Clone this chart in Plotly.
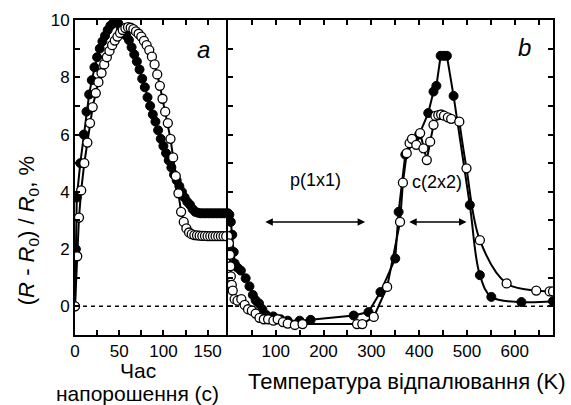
import plotly.graph_objects as go

# ---------------- data ----------------
# panel a: deposition time (s)
t_fill_a = [0, 1, 2, 6, 10, 13, 16, 19, 22, 25, 28, 31, 34, 37, 40, 43, 46, 49, 52, 55, 58, 61, 64, 67, 70,
            73, 76, 79, 82, 85, 88, 91, 94, 97, 100, 103, 106, 109, 112, 115, 118, 121, 124, 127, 130, 133,
            136, 139, 142, 145, 148, 151, 154, 157, 160, 163, 166, 169, 172]
v_fill_a = [0, 2.0, 3.8, 5.0, 6.0, 6.8, 7.4, 7.9, 8.35, 8.7, 9.0, 9.25, 9.45, 9.65, 9.8, 9.88, 9.92, 9.88, 9.7,
            9.6, 9.45, 9.3, 9.05, 8.8, 8.55, 8.27, 7.95, 7.65, 7.3, 7.0, 6.7, 6.45, 6.15, 5.85, 5.6, 5.35, 5.1,
            4.85, 4.6, 4.4, 4.2, 4.0, 3.8, 3.65, 3.55, 3.4, 3.3, 3.27, 3.25, 3.25, 3.25, 3.25, 3.25, 3.25,
            3.25, 3.25, 3.25, 3.25, 3.25]

t_open_a = [0, 2.5, 4.5, 7, 10.5, 14, 17, 20, 23.5, 26.5, 30, 33, 36, 39, 42, 45, 48, 51, 54, 57, 60, 63, 66,
            69, 72, 75, 78, 81, 84, 87, 90, 93, 96, 99, 102, 105, 108, 111, 114, 117, 120, 123, 126, 129, 132,
            135, 138, 141, 144, 147, 150, 153, 156, 159, 162, 165, 168, 171]
v_open_a = [0, 1.75, 3.1, 4.05, 5.0, 5.72, 6.4, 6.96, 7.45, 7.83, 8.15, 8.45, 8.7, 8.92, 9.12, 9.28, 9.42,
            9.55, 9.65, 9.72, 9.75, 9.73, 9.68, 9.6, 9.52, 9.42, 9.27, 9.12, 8.95, 8.72, 8.45, 8.1, 7.7, 7.25,
            6.8, 6.4, 5.85, 5.2, 4.55, 3.95, 3.3, 2.95, 2.72, 2.58, 2.52, 2.49, 2.48, 2.47, 2.46, 2.46, 2.45,
            2.45, 2.45, 2.45, 2.45, 2.45, 2.45, 2.45]

# panel b: annealing temperature (K)
T_fill_b = [0, 3, 6, 9, 12, 14, 20, 27, 37, 45, 52, 58, 65, 72, 80, 95, 110, 125, 150, 173, 263, 294, 319,
            350, 357, 371, 400, 419, 430, 436, 445, 452, 458, 472, 506, 527, 551, 614, 680]
v_fill_b = [3.25, 3.2, 2.95, 2.5, 1.9, 1.5, 1.35, 1.25, 0.98, 0.7, 0.4, 0.21, 0.1, -0.1, -0.3, -0.35, -0.45,
            -0.5, -0.5, -0.47, -0.32, -0.2, 0.5, 1.67, 3.3, 5.3, 6.0, 6.75, 7.5, 7.7, 8.75, 8.75, 8.75, 7.35,
            3.54, 1.09, 0.33, 0.15, 0.18]

T_open_b = [0, 2, 4, 5, 6, 8, 10, 14, 20, 28, 35, 42, 50, 58, 66, 75, 84, 95, 104, 115, 125, 140, 156, 270,
            281, 305, 333, 360, 366, 374, 380, 385, 394, 402, 409, 416, 423, 430, 434, 440, 446, 452, 460, 467,
            484, 499, 527, 583, 645, 673, 680]
v_open_b = [2.45, 2.2, 1.8, 1.4, 1.05, 0.75, 0.55, 0.25, 0.2, 0.25, 0.05, -0.1, -0.15, -0.25, -0.4, -0.45,
            -0.45, -0.5, -0.45, -0.55, -0.6, -0.65, -0.62, -0.62, -0.62, -0.37, 0.68, 2.95, 4.32, 5.35, 5.7,
            5.85, 5.64, 6.05, 5.52, 5.11, 5.75, 6.34, 6.65, 6.68, 6.7, 6.66, 6.6, 6.55, 6.45, 4.82, 2.31, 0.8,
            0.55, 0.52, 0.52]

# index where the smooth fitted tail begins
tail_fill = 33   # T = 472
tail_open = 44   # T = 484

# ticks
ya_vals = [0, 2, 4, 6, 8, 10]
xa_vals = [0, 50, 100, 150]
xb_vals = [100, 200, 300, 400, 500, 600]

FONT = "Liberation Sans, Arial, sans-serif"
black = "black"
fig = go.Figure()

# panel a
fig.add_trace(go.Scatter(x=t_fill_a, y=v_fill_a, mode="lines+markers", xaxis="x", yaxis="y",
                         line=dict(color=black, width=2),
                         marker=dict(size=9, color=black, line=dict(color=black, width=1))))
fig.add_trace(go.Scatter(x=t_open_a, y=v_open_a, mode="lines+markers", xaxis="x", yaxis="y",
                         line=dict(color=black, width=2),
                         marker=dict(size=9, color="white", line=dict(color=black, width=1.3))))

# panel b: lines (linear part + smooth tail), then markers
fig.add_trace(go.Scatter(x=T_fill_b[:tail_fill + 1], y=v_fill_b[:tail_fill + 1], mode="lines",
                         xaxis="x2", yaxis="y2", line=dict(color=black, width=2)))
fig.add_trace(go.Scatter(x=T_fill_b[tail_fill:], y=v_fill_b[tail_fill:], mode="lines",
                         xaxis="x2", yaxis="y2", line=dict(color=black, width=2, shape="spline", smoothing=1.0)))
fig.add_trace(go.Scatter(x=T_open_b[:tail_open + 1], y=v_open_b[:tail_open + 1], mode="lines",
                         xaxis="x2", yaxis="y2", line=dict(color=black, width=2)))
fig.add_trace(go.Scatter(x=T_open_b[tail_open:], y=v_open_b[tail_open:], mode="lines",
                         xaxis="x2", yaxis="y2", line=dict(color=black, width=2, shape="spline", smoothing=1.0)))
fig.add_trace(go.Scatter(x=T_fill_b, y=v_fill_b, mode="markers", xaxis="x2", yaxis="y2",
                         marker=dict(size=9, color=black, line=dict(color=black, width=1))))
fig.add_trace(go.Scatter(x=T_open_b, y=v_open_b, mode="markers", xaxis="x2", yaxis="y2",
                         marker=dict(size=9, color="white", line=dict(color=black, width=1.3))))

axis_common = dict(showline=True, linecolor=black, linewidth=2, ticks="inside", tickcolor=black,
                   ticklen=5, tickwidth=1.5, showgrid=False, zeroline=False,
                   tickfont=dict(family=FONT, size=17, color=black))
minor = lambda d: dict(dtick=d, ticks="inside", ticklen=5, tickwidth=1.5, tickcolor=black, showgrid=False)

fig.update_layout(
    width=571, height=405,
    margin=dict(l=75, r=18, t=20, b=70),
    paper_bgcolor="white", plot_bgcolor="white",
    showlegend=False,
    xaxis=dict(domain=[0, 0.32], range=[0, 173], tickmode="array", tickvals=xa_vals,
               minor=minor(25), mirror="ticks", anchor="y", **axis_common),
    xaxis2=dict(domain=[0.32, 1], range=[0, 680], tickmode="array", tickvals=xb_vals,
                minor=minor(50), mirror="ticks", anchor="y2", **axis_common),
    yaxis=dict(range=[-1, 10], tickmode="array", tickvals=ya_vals, minor=minor(1), mirror=False,
               anchor="x", **axis_common),
    yaxis2=dict(range=[-1, 10], tickmode="array", tickvals=ya_vals, showticklabels=False, minor=minor(1),
                mirror="ticks", anchor="x2", **axis_common),
)

# dashed zero line across both panels
fig.add_shape(type="line", xref="paper", yref="y", x0=0, x1=1, y0=0, y1=0,
              line=dict(color=black, width=1.5, dash="4px,4px"), layer="below")

fig.add_annotation(text="(<i>R</i> - <i>R</i><sub>0</sub>) / <i>R</i><sub>0</sub>, %", xref="paper",
                   yref="paper", x=-0.098, y=0.33, textangle=-90, showarrow=False,
                   font=dict(family=FONT, size=22, color=black), xanchor="center", yanchor="middle")
afont = dict(family=FONT, size=21, color=black)
fig.add_annotation(text="Час", xref="paper", yref="paper", x=0.132, y=-0.114, showarrow=False, font=afont,
                   xanchor="center", yanchor="middle")
fig.add_annotation(text="напорошення (с)", xref="paper", yref="paper", x=0.131, y=-0.186, showarrow=False,
                   font=afont, xanchor="center", yanchor="middle")
fig.add_annotation(text="Температура відпалювання (K)", xref="paper", yref="paper", x=0.695, y=-0.149,
                   showarrow=False, font=dict(family=FONT, size=22, color=black),
                   xanchor="center", yanchor="middle")
fig.add_annotation(text="<i>a</i>", xref="paper", yref="paper", x=0.268, y=0.905, showarrow=False,
                   font=dict(family=FONT, size=24, color=black), xanchor="center", yanchor="middle")
fig.add_annotation(text="<i>b</i>", xref="paper", yref="paper", x=0.941, y=0.914, showarrow=False,
                   font=dict(family=FONT, size=24, color=black), xanchor="center", yanchor="middle")
fig.add_annotation(text="p(1x1)", xref="x2", yref="y2", x=184, y=4.4, showarrow=False,
                   font=dict(family=FONT, size=18, color=black))
fig.add_annotation(text="c(2x2)", xref="x2", yref="y2", x=437, y=4.35, showarrow=False,
                   font=dict(family=FONT, size=18, color=black))
# double-headed arrows
for x0, x1 in [(75, 287), (376, 499)]:
    fig.add_annotation(x=x1, y=2.95, ax=x0, ay=2.95, xref="x2", yref="y2", axref="x2", ayref="y2",
                       text="", showarrow=True, arrowhead=2, startarrowhead=2, arrowside="end+start",
                       arrowsize=1, startarrowsize=1, arrowwidth=1.5, arrowcolor=black, standoff=0,
                       startstandoff=0)

fig.write_html("out.html")
